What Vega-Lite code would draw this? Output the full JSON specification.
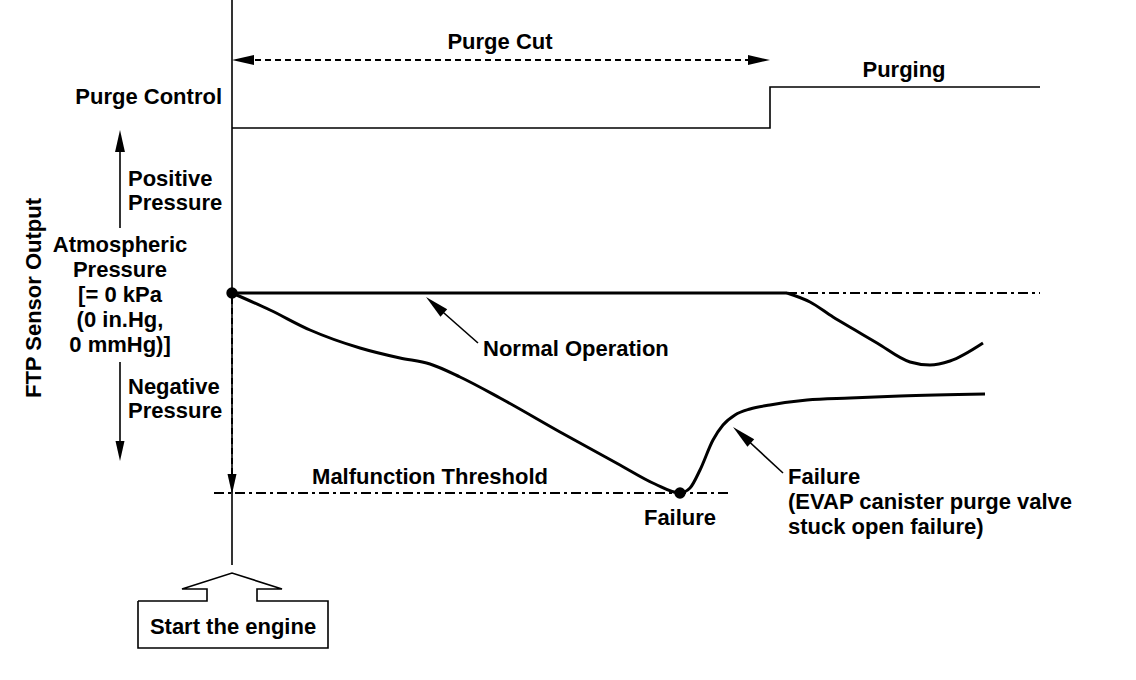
{
  "$schema": "https://vega.github.io/schema/vega-lite/v6.json",
  "width": 1136,
  "height": 680,
  "padding": 0,
  "autosize": {"type": "none"},
  "background": "white",
  "config": {"view": {"stroke": null}, "text": {"font": "Liberation Sans", "fontWeight": "bold", "fontSize": 22, "color": "black"}},
  "datasets": {
    "thin": [
      {"s": "axis", "i": 0, "x": 232, "y": 0}, {"s": "axis", "i": 1, "x": 232, "y": 565},
      {"s": "purge", "i": 0, "x": 232, "y": 128}, {"s": "purge", "i": 1, "x": 770, "y": 128}, {"s": "purge", "i": 2, "x": 770, "y": 87}, {"s": "purge", "i": 3, "x": 1040, "y": 87},
      {"s": "up", "i": 0, "x": 120, "y": 228}, {"s": "up", "i": 1, "x": 120, "y": 145},
      {"s": "down", "i": 0, "x": 120, "y": 362}, {"s": "down", "i": 1, "x": 120, "y": 448},
      {"s": "normArrow", "i": 0, "x": 478, "y": 343}, {"s": "normArrow", "i": 1, "x": 436, "y": 306},
      {"s": "failArrow", "i": 0, "x": 783, "y": 473}, {"s": "failArrow", "i": 1, "x": 743, "y": 436},
      {"s": "box", "i": 0, "x": 138, "y": 601}, {"s": "box", "i": 1, "x": 207, "y": 601}, {"s": "box", "i": 2, "x": 207, "y": 589}, {"s": "box", "i": 3, "x": 182, "y": 589}, {"s": "box", "i": 4, "x": 232, "y": 573}, {"s": "box", "i": 5, "x": 282, "y": 589}, {"s": "box", "i": 6, "x": 257, "y": 589}, {"s": "box", "i": 7, "x": 257, "y": 601}, {"s": "box", "i": 8, "x": 328, "y": 601}, {"s": "box", "i": 9, "x": 328, "y": 648}, {"s": "box", "i": 10, "x": 138, "y": 648}, {"s": "box", "i": 11, "x": 138, "y": 601}
    ],
    "thick": [
      {"s": "normal", "i": 0, "x": 232, "y": 293}, {"s": "normal", "i": 1, "x": 787, "y": 293}
    ],
    "curves": [
      {"s": "failure", "x": 232, "y": 293}, {"s": "failure", "x": 270, "y": 310}, {"s": "failure", "x": 310, "y": 330}, {"s": "failure", "x": 360, "y": 348}, {"s": "failure", "x": 400, "y": 358}, {"s": "failure", "x": 430, "y": 364}, {"s": "failure", "x": 460, "y": 377}, {"s": "failure", "x": 500, "y": 398}, {"s": "failure", "x": 560, "y": 432}, {"s": "failure", "x": 620, "y": 465}, {"s": "failure", "x": 655, "y": 484}, {"s": "failure", "x": 680, "y": 493}, {"s": "failure", "x": 690, "y": 488}, {"s": "failure", "x": 700, "y": 470}, {"s": "failure", "x": 713, "y": 440}, {"s": "failure", "x": 723, "y": 425}, {"s": "failure", "x": 735, "y": 415}, {"s": "failure", "x": 750, "y": 409}, {"s": "failure", "x": 770, "y": 405}, {"s": "failure", "x": 807, "y": 400}, {"s": "failure", "x": 850, "y": 398}, {"s": "failure", "x": 900, "y": 396}, {"s": "failure", "x": 985, "y": 394},
      {"s": "purging", "x": 787, "y": 293}, {"s": "purging", "x": 810, "y": 302}, {"s": "purging", "x": 833, "y": 317}, {"s": "purging", "x": 855, "y": 330}, {"s": "purging", "x": 877, "y": 343}, {"s": "purging", "x": 910, "y": 362}, {"s": "purging", "x": 930, "y": 365}, {"s": "purging", "x": 950, "y": 361}, {"s": "purging", "x": 983, "y": 343}
    ],
    "dashed": [
      {"s": "cut", "i": 0, "x": 245, "y": 60}, {"s": "cut", "i": 1, "x": 755, "y": 60},
      {"s": "vert", "i": 0, "x": 232, "y": 298}, {"s": "vert", "i": 1, "x": 232, "y": 480}
    ],
    "dashdot": [
      {"s": "atm", "i": 0, "x": 787, "y": 293}, {"s": "atm", "i": 1, "x": 1040, "y": 293},
      {"s": "thr", "i": 0, "x": 214, "y": 493}, {"s": "thr", "i": 1, "x": 728, "y": 493}
    ],
    "dots": [{"x": 232, "y": 293}, {"x": 680, "y": 493}],
    "headLeft": [{"x": 232, "y": 60}],
    "headRight": [{"x": 770, "y": 60}],
    "headUp": [{"x": 120, "y": 130}],
    "headDown": [{"x": 120, "y": 461}, {"x": 232, "y": 494}],
    "headDiag": [{"x": 426, "y": 297}, {"x": 733, "y": 427}],
    "textCenter": [
      {"x": 500, "y": 42, "label": "Purge Cut"},
      {"x": 904, "y": 70, "label": "Purging"},
      {"x": 430, "y": 477, "label": "Malfunction Threshold"},
      {"x": 680, "y": 518, "label": "Failure"},
      {"x": 233, "y": 627, "label": "Start the engine"},
      {"x": 120, "y": 245, "label": "Atmospheric"},
      {"x": 120, "y": 270, "label": "Pressure"},
      {"x": 120, "y": 295, "label": "[= 0 kPa"},
      {"x": 120, "y": 320, "label": "(0 in.Hg,"},
      {"x": 120, "y": 345, "label": "0 mmHg)]"}
    ],
    "textLeft": [
      {"x": 128, "y": 179, "label": "Positive"},
      {"x": 128, "y": 203, "label": "Pressure"},
      {"x": 128, "y": 387, "label": "Negative"},
      {"x": 128, "y": 411, "label": "Pressure"},
      {"x": 483, "y": 349, "label": "Normal Operation"},
      {"x": 788, "y": 477, "label": "Failure"},
      {"x": 788, "y": 502, "label": "(EVAP canister purge valve"},
      {"x": 788, "y": 527, "label": "stuck open failure)"}
    ],
    "textRight": [{"x": 222, "y": 97, "label": "Purge Control"}],
    "textRot": [{"x": 34, "y": 298, "label": "FTP Sensor Output"}]
  },
  "encoding": {
    "x": {"field": "x", "type": "quantitative", "scale": {"domain": [0, 1136], "nice": false, "zero": false}, "axis": null},
    "y": {"field": "y", "type": "quantitative", "scale": {"domain": [0, 680], "nice": false, "zero": false, "reverse": true}, "axis": null}
  },
  "layer": [
    {"data": {"name": "thin"}, "mark": {"type": "line", "color": "black", "strokeWidth": 1.6}, "encoding": {"detail": {"field": "s"}, "order": {"field": "i"}}},
    {"data": {"name": "thick"}, "mark": {"type": "line", "color": "black", "strokeWidth": 3}, "encoding": {"detail": {"field": "s"}, "order": {"field": "i"}}},
    {"data": {"name": "curves"}, "mark": {"type": "line", "color": "black", "strokeWidth": 3, "interpolate": "monotone"}, "encoding": {"detail": {"field": "s"}}},
    {"data": {"name": "dashed"}, "mark": {"type": "line", "color": "black", "strokeWidth": 2, "strokeDash": [6, 4]}, "encoding": {"detail": {"field": "s"}, "order": {"field": "i"}}},
    {"data": {"name": "dashdot"}, "mark": {"type": "line", "color": "black", "strokeWidth": 2, "strokeDash": [10, 4, 3, 4]}, "encoding": {"detail": {"field": "s"}, "order": {"field": "i"}}},
    {"data": {"name": "dots"}, "mark": {"type": "point", "filled": true, "color": "black", "opacity": 1, "size": 130, "shape": "circle"}},
    {"data": {"name": "headLeft"}, "mark": {"type": "point", "filled": true, "color": "black", "opacity": 1, "size": 484, "angle": 270, "shape": "M0,0L0.45,2L-0.45,2Z"}},
    {"data": {"name": "headRight"}, "mark": {"type": "point", "filled": true, "color": "black", "opacity": 1, "size": 484, "angle": 90, "shape": "M0,0L0.45,2L-0.45,2Z"}},
    {"data": {"name": "headUp"}, "mark": {"type": "point", "filled": true, "color": "black", "opacity": 1, "size": 484, "angle": 0, "shape": "M0,0L0.45,2L-0.45,2Z"}},
    {"data": {"name": "headDown"}, "mark": {"type": "point", "filled": true, "color": "black", "opacity": 1, "size": 400, "angle": 180, "shape": "M0,0L0.45,2L-0.45,2Z"}},
    {"data": {"name": "headDiag"}, "mark": {"type": "point", "filled": true, "color": "black", "opacity": 1, "size": 576, "angle": 312, "shape": "M0,0L0.42,2L-0.42,2Z"}},
    {"data": {"name": "textCenter"}, "mark": {"type": "text", "align": "center", "baseline": "middle"}, "encoding": {"text": {"field": "label"}}},
    {"data": {"name": "textLeft"}, "mark": {"type": "text", "align": "left", "baseline": "middle"}, "encoding": {"text": {"field": "label"}}},
    {"data": {"name": "textRight"}, "mark": {"type": "text", "align": "right", "baseline": "middle"}, "encoding": {"text": {"field": "label"}}},
    {"data": {"name": "textRot"}, "mark": {"type": "text", "align": "center", "baseline": "middle", "angle": 270}, "encoding": {"text": {"field": "label"}}}
  ]
}
